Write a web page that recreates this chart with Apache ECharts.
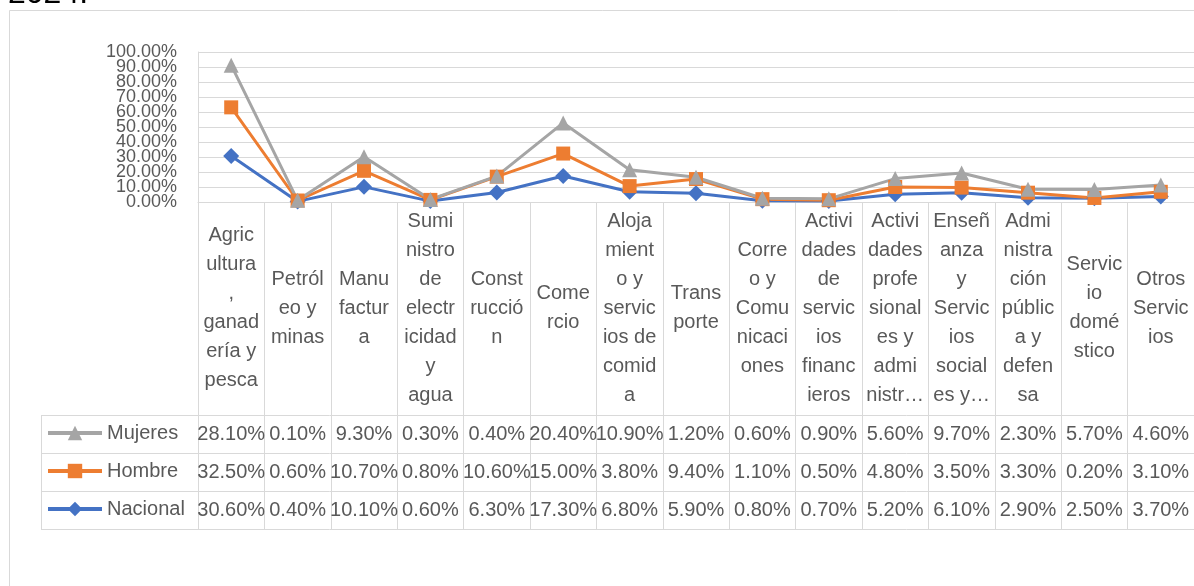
<!DOCTYPE html>
<html>
<head>
<meta charset="utf-8">
<script src="https://cdn.jsdelivr.net/npm/echarts@6/dist/echarts.min.js"></script>
<style>
  html, body { margin: 0; padding: 0; background: #fff; }
  #chart { width: 1194px; height: 586px; }
</style>
</head>
<body>
<div id="chart"></div>
<script>
// categories, wrapped like the cells of the Excel data table
const categories = [
  'Agric\nultura\n,\nganad\nería y\npesca',
  'Petról\neo y\nminas',
  'Manu\nfactur\na',
  'Sumi\nnistro\nde\nelectr\nicidad\ny\nagua',
  'Const\nrucció\nn',
  'Come\nrcio',
  'Aloja\nmient\no y\nservic\nios de\ncomid\na',
  'Trans\nporte',
  'Corre\no y\nComu\nnicaci\nones',
  'Activi\ndades\nde\nservic\nios\nfinanc\nieros',
  'Activi\ndades\nprofe\nsional\nes y\nadmi\nnistr…',
  'Enseñ\nanza\ny\nServic\nios\nsocial\nes y…',
  'Admi\nnistra\nción\npúblic\na y\ndefen\nsa',
  'Servic\nio\ndomé\nstico',
  'Otros\nServic\nios'
]

// values in percent
const mujeres = [28.1, 0.1, 9.3, 0.3, 0.4, 20.4, 10.9, 1.2, 0.6, 0.9, 5.6, 9.7, 2.3, 5.7, 4.6]
const hombre = [32.5, 0.6, 10.7, 0.8, 10.6, 15.0, 3.8, 9.4, 1.1, 0.5, 4.8, 3.5, 3.3, 0.2, 3.1]
const nacional = [30.6, 0.4, 10.1, 0.6, 6.3, 17.3, 6.8, 5.9, 0.8, 0.7, 5.2, 6.1, 2.9, 2.5, 3.7]

const yTicks = [0, 100, 10] // min, max, step

const GRID_L = 198, GRID_T = 52, GRID_H = 150, CAT_W = 66.9
const AXIS_Y = GRID_T + GRID_H
const ROW_Y = [434, 472, 510] // table row centres
const txt = '#595959'
const line = '#d9d9d9'
const font = 'Liberation Sans'

// data table rows: top row is the last series drawn (Excel order)
const rows = [
  { name: 'Mujeres', data: mujeres, color: '#A5A5A5', symbol: 'triangle', size: 15 },
  { name: 'Hombre', data: hombre, color: '#ED7D31', symbol: 'rect', size: 14 },
  { name: 'Nacional', data: nacional, color: '#4472C4', symbol: 'diamond', size: 16 }
]

const pct = (v) => v.toFixed(2) + '%'

const myChart = echarts.init(document.getElementById('chart'))

const xAxes = [{
  type: 'category',
  data: categories,
  gridIndex: 0,
  boundaryGap: true,
  axisLine: { show: true, lineStyle: { color: line } },
  axisTick: { show: true, interval: 0, length: 327, lineStyle: { color: line } },
  axisLabel: {
    interval: 0, margin: 308 - AXIS_Y, verticalAlign: 'middle',
    color: txt, fontSize: 20, lineHeight: 29, fontFamily: font
  }
}]
rows.forEach((r, i) => {
  xAxes.push({
    type: 'category',
    data: categories,
    gridIndex: 0,
    position: 'bottom',
    offset: ROW_Y[i] - AXIS_Y,
    axisLine: { show: false },
    axisTick: { show: false },
    axisLabel: {
      interval: 0, margin: 0, verticalAlign: 'middle',
      color: txt, fontSize: 20, fontFamily: font,
      formatter: (v, idx) => pct(r.data[idx])
    }
  })
})

// series drawn bottom-up so the stack matches the picture
const seriesData = rows.slice().reverse().map((r) => ({
  name: r.name,
  type: 'line',
  stack: 'total',
  data: r.data,
  symbol: r.symbol,
  symbolSize: r.size,
  lineStyle: { width: 3, color: r.color },
  itemStyle: { color: r.color },
  emphasis: { disabled: true }
}))

// one legend per table row, so each key sits in its own cell
const legends = rows.map((r, i) => ({
  data: [r.name],
  left: 41,
  top: ROW_Y[i] - 16,
  itemWidth: 54,
  itemHeight: 18,
  itemGap: 0,
  selectedMode: false,
  lineStyle: { width: 4 },
  textStyle: { color: txt, fontSize: 20, lineHeight: 20, fontFamily: font }
}))

const tableW = GRID_L + CAT_W * 15 + 10
const graphics = [
  // chart border
  { type: 'rect', shape: { x: 9.5, y: 10.5, width: 1300, height: 700 },
    style: { fill: 'none', stroke: line, lineWidth: 1 }, silent: true },
  // title fragment cut at the top edge
  { type: 'text', x: 8, y: 10,
    style: { text: '2024.', fill: '#000', font: '32px "Liberation Sans"', verticalAlign: 'bottom' } },
  // table left edge
  { type: 'line', shape: { x1: 41.5, y1: 415, x2: 41.5, y2: 529 },
    style: { stroke: line, lineWidth: 1 } }
]
;[415, 453, 491, 529].forEach((y) => {
  graphics.push({ type: 'line', shape: { x1: 41, y1: y + 0.5, x2: tableW, y2: y + 0.5 },
    style: { stroke: line, lineWidth: 1 } })
})

const yLabel = { margin: 21, color: txt, fontSize: 18, fontFamily: font, formatter: (v) => pct(v) }

const myOption = {
  backgroundColor: '#fff',
  animation: false,
  legend: legends,
  grid: { left: GRID_L, top: GRID_T, width: CAT_W * 15, height: GRID_H, containLabel: false },
  xAxis: xAxes,
  yAxis: [{
    type: 'value',
    min: yTicks[0],
    max: yTicks[1],
    interval: yTicks[2],
    axisLine: { show: true, lineStyle: { color: line } },
    axisTick: { show: false },
    // inner ticks here; the two end labels come from the second axis
    axisLabel: Object.assign({ showMinLabel: false, showMaxLabel: false }, yLabel),
    splitLine: { lineStyle: { color: line } }
  }, {
    type: 'value',
    position: 'left',
    min: yTicks[0],
    max: yTicks[1],
    interval: yTicks[1] - yTicks[0],
    axisLine: { show: false },
    axisTick: { show: false },
    splitLine: { show: false },
    axisLabel: Object.assign({ showMinLabel: true, showMaxLabel: true }, yLabel)
  }],
  graphic: graphics,
  series: seriesData
}
myChart.setOption(myOption)
</script>
</body>
</html>
